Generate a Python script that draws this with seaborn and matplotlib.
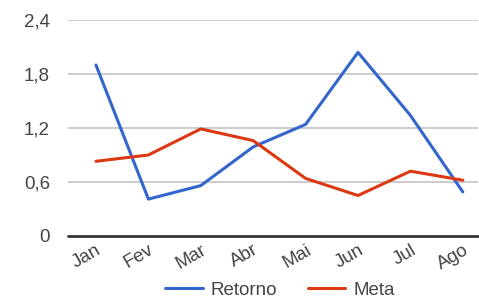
import matplotlib
matplotlib.use("Agg")
import matplotlib.pyplot as plt
import seaborn as sns
import pandas as pd

months = ["Jan", "Fev", "Mar", "Abr", "Mai", "Jun", "Jul", "Ago"]
retorno = [1.90, 0.41, 0.56, 0.99, 1.24, 2.04, 1.34, 0.49]
meta = [0.83, 0.90, 1.19, 1.06, 0.64, 0.45, 0.72, 0.62]
yticks = [0, 0.6, 1.2, 1.8, 2.4]
ytick_labels = ["0", "0,6", "1,2", "1,8", "2,4"]

df = pd.DataFrame({
    "mes": months * 2,
    "valor": retorno + meta,
    "serie": ["Retorno"] * len(months) + ["Meta"] * len(months),
})

sns.set_theme(style="white")
plt.rcParams["font.family"] = ["Liberation Sans", "DejaVu Sans"]

fig = plt.figure(figsize=(4.79, 3.03), dpi=100)
ax = fig.add_axes([68 / 479, 1 - 236 / 303, 410 / 479, 216 / 303])

sns.lineplot(data=df, x="mes", y="valor", hue="serie", sort=False,
             palette={"Retorno": "#3366CC", "Meta": "#DC3912"},
             linewidth=2.2, ax=ax, legend=True)

ax.set_xlim(-0.534, 7.29)
ax.set_ylim(0, 2.4)
ax.set_yticks(yticks)
ax.set_yticklabels(ytick_labels)
ax.set_xlabel("")
ax.set_ylabel("")
for y in yticks[1:]:
    ax.axhline(y, color="#cccccc", linewidth=1.4, zorder=0)
ax.axhline(0, color="#333333", linewidth=2.0, zorder=3, clip_on=False)
for s in ax.spines.values():
    s.set_visible(False)
ax.tick_params(axis="both", length=0, colors="#444444", labelsize=13.5)
ax.tick_params(axis="y", pad=13)
ax.tick_params(axis="x", pad=4)
for lbl in ax.get_xticklabels():
    lbl.set_rotation(30)
    lbl.set_ha("right")
    lbl.set_rotation_mode("anchor")

handles, labels = ax.get_legend_handles_labels()
ax.legend_.remove()
fig.legend(handles, labels, loc="center", bbox_to_anchor=(280 / 479, 1 - 290 / 303),
           ncol=2, frameon=False, fontsize=13.5, handlelength=2.0,
           columnspacing=1.6, handletextpad=0.45, labelcolor="#444444",
           borderpad=0.0)

fig.savefig("out.png", dpi=100)
